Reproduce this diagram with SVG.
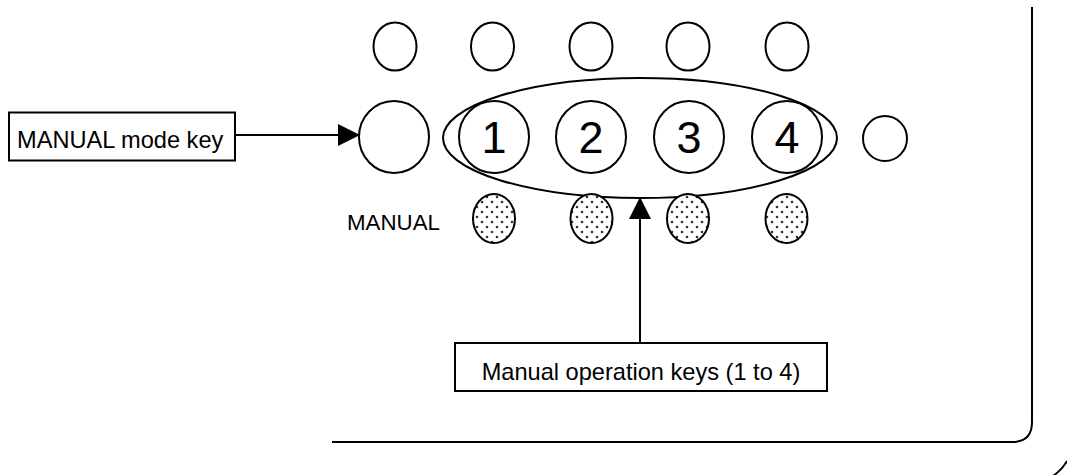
<svg xmlns="http://www.w3.org/2000/svg" width="1067" height="475" viewBox="0 0 1067 475">
  <defs>
    <pattern id="dots" width="10" height="10" patternUnits="userSpaceOnUse">
      <rect width="10" height="10" fill="#fff"/>
      <circle cx="2" cy="2" r="1.3" fill="#333"/>
      <circle cx="7" cy="7" r="1.3" fill="#333"/>
    </pattern>
    <marker id="arrow" viewBox="0 0 22 22" refX="21" refY="11" markerWidth="22" markerHeight="22" markerUnits="userSpaceOnUse" orient="auto">
      <path d="M0,0 L22,11 L0,22 Z" fill="#000"/>
    </marker>
    <style>
      .ln { fill: none; stroke: #000; stroke-width: 2; }
      .key { fill: #fff; stroke: #000; stroke-width: 2; }
      .lamp { fill: url(#dots); stroke: #000; stroke-width: 2; }
      .box { fill: #fff; stroke: #000; stroke-width: 2; }
      .txt { font-family: "Liberation Sans", Arial, sans-serif; fill: #000; }
      .num { font-family: "Liberation Sans", Arial, sans-serif; font-size: 45px; fill: #000; text-anchor: middle; }
    </style>
  </defs>

  <rect width="1067" height="475" fill="#fff"/>

  <!-- panel outline -->
  <g id="panel">
    <path class="ln" d="M1032,7 V422 Q1032,442 1012,442 H332"/>
    <path class="ln" d="M1067,461 Q1062,470 1053,476"/>
  </g>

  <!-- upper row of plain keys -->
  <g id="top-keys">
    <ellipse class="key" cx="395" cy="46.5" rx="21.5" ry="24"/>
    <ellipse class="key" cx="492.5" cy="46.5" rx="21.5" ry="24"/>
    <ellipse class="key" cx="591" cy="46.5" rx="21.5" ry="24"/>
    <ellipse class="key" cx="688" cy="46.5" rx="21.5" ry="24"/>
    <ellipse class="key" cx="787" cy="46.5" rx="21.5" ry="24"/>
  </g>

  <g id="manual-key">
    <ellipse class="key" cx="394" cy="137" rx="35" ry="36"/>
  </g>

  <g id="key-1">
    <ellipse class="key" cx="494" cy="137" rx="35" ry="36"/>
    <text class="num" x="494" y="153">1</text>
  </g>
  <g id="key-2">
    <ellipse class="key" cx="591" cy="137" rx="35" ry="36"/>
    <text class="num" x="591" y="153">2</text>
  </g>
  <g id="key-3">
    <ellipse class="key" cx="689" cy="137" rx="35" ry="36"/>
    <text class="num" x="689" y="153">3</text>
  </g>
  <g id="key-4">
    <ellipse class="key" cx="787" cy="137" rx="35" ry="36"/>
    <text class="num" x="787" y="153">4</text>
  </g>

  <g id="side-key">
    <ellipse class="key" cx="885" cy="138.5" rx="22" ry="22.5"/>
  </g>

  <!-- grouping ellipse round keys 1 to 4 -->
  <g id="operation-group">
    <ellipse class="ln" cx="640" cy="138" rx="197" ry="60"/>
  </g>

  <!-- indicator lamps -->
  <g id="lamps">
    <ellipse class="lamp" cx="494" cy="218.5" rx="21" ry="24.5"/>
    <ellipse class="lamp" cx="591.5" cy="218.5" rx="21" ry="24.5"/>
    <ellipse class="lamp" cx="688" cy="218.5" rx="21" ry="24.5"/>
    <ellipse class="lamp" cx="786.5" cy="218.5" rx="21" ry="24.5"/>
  </g>

  <g id="manual-label">
    <text class="txt" x="347" y="230" font-size="22.3">MANUAL</text>
  </g>

  <g id="mode-key-callout">
    <rect class="box" x="9" y="112.5" width="226" height="48"/>
    <text class="txt" x="17" y="148" font-size="23.6">MANUAL mode key</text>
  </g>

  <g id="operation-keys-callout">
    <rect class="box" x="455" y="343" width="372" height="48"/>
    <text class="txt" x="641" y="380" font-size="23.6" text-anchor="middle">Manual operation keys (1 to 4)</text>
  </g>

  <!-- connectors -->
  <g id="connectors">
    <line class="ln" x1="235" y1="135" x2="359" y2="135" marker-end="url(#arrow)"/>
    <line class="ln" x1="640" y1="342" x2="640" y2="198" marker-end="url(#arrow)"/>
  </g>
</svg>
